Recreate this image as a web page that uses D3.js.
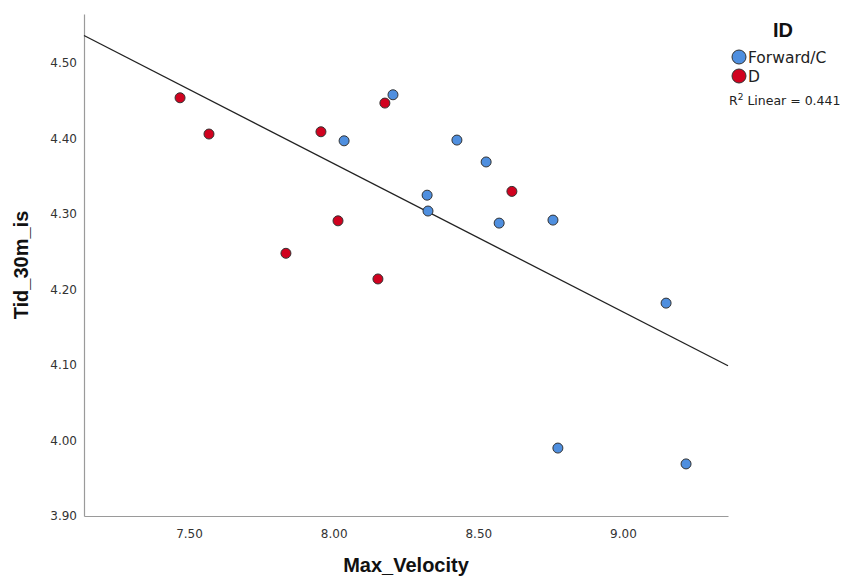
<!DOCTYPE html>
<html>
<head>
<meta charset="utf-8">
<script src="https://cdn.jsdelivr.net/npm/d3@7"></script>
<style>
  body { margin: 0; background: #fff; }
  svg text { font-family: "DejaVu Sans", sans-serif; }
  svg text.title { font-family: "Liberation Sans", Arial, sans-serif; }
</style>
</head>
<body>
<div id="chart"></div>
<script>
// Data
const groups = ['Forward/C', 'D'];
const groupColors = ['#4f8fdf', '#d0021f'];

const forwardVelocity = [8.205, 8.036, 8.426, 8.527, 8.323, 8.326, 8.572, 8.758, 9.149, 8.775, 9.218];
const forwardTime     = [4.458, 4.397, 4.398, 4.369, 4.325, 4.304, 4.288, 4.292, 4.182, 3.990, 3.969];

const dVelocity = [7.469, 7.569, 7.835, 7.956, 8.015, 8.153, 8.177, 8.616];
const dTime     = [4.454, 4.406, 4.248, 4.409, 4.291, 4.214, 4.447, 4.330];

const xTicks = [7.5, 8.0, 8.5, 9.0];
const yTicks = [3.9, 4.0, 4.1, 4.2, 4.3, 4.4, 4.5];
const xDomain = [7.137, 9.363];
const yDomain = [3.9, 4.565];
const r2Label = '0.441';

const width = 849, height = 576;
const margin = { top: 14, right: 121, bottom: 60, left: 84 };

const svg = d3.select('#chart')
    .append('svg')
    .attr('width', width)
    .attr('height', height);

const x = d3.scaleLinear().domain(xDomain).range([margin.left, width - margin.right]);
const y = d3.scaleLinear().domain(yDomain).range([height - margin.bottom, margin.top]);

// Axes (lines only, no tick marks)
const xAxis = svg.append('g')
    .attr('transform', `translate(0,${height - margin.bottom})`)
    .call(d3.axisBottom(x).tickValues(xTicks).tickSize(0).tickPadding(13).tickFormat(d3.format('.2f')));
const yAxis = svg.append('g')
    .attr('transform', `translate(${margin.left},0)`)
    .call(d3.axisLeft(y).tickValues(yTicks).tickSize(0).tickPadding(7).tickFormat(d3.format('.2f')));

[xAxis, yAxis].forEach(a => {
    a.select('.domain').attr('stroke', '#9a9a9a').attr('stroke-width', 1.2);
    a.selectAll('text')
        .attr('fill', '#333')
        .attr('font-size', 12)
        .attr('font-family', '"DejaVu Sans", sans-serif');
});

// Build point list from the arrays
const points = [];
forwardVelocity.forEach((v, i) => points.push({ x: v, y: forwardTime[i], g: 0 }));
dVelocity.forEach((v, i) => points.push({ x: v, y: dTime[i], g: 1 }));

// Linear fit over all points
const mx = d3.mean(points, d => d.x);
const my = d3.mean(points, d => d.y);
const slope = d3.sum(points, d => (d.x - mx) * (d.y - my)) / d3.sum(points, d => (d.x - mx) ** 2);
const intercept = my - slope * mx;

svg.append('line')
    .attr('x1', x(xDomain[0]))
    .attr('y1', y(intercept + slope * xDomain[0]))
    .attr('x2', x(xDomain[1]))
    .attr('y2', y(intercept + slope * xDomain[1]))
    .attr('stroke', '#222')
    .attr('stroke-width', 1.3);

// Points
svg.append('g')
    .selectAll('circle')
    .data(points)
    .join('circle')
    .attr('cx', d => x(d.x))
    .attr('cy', d => y(d.y))
    .attr('r', 5)
    .attr('fill', d => groupColors[d.g])
    .attr('stroke', '#333')
    .attr('stroke-width', 1);

// Axis titles
svg.append('text')
    .attr('class', 'title')
    .attr('x', (margin.left + width - margin.right) / 2)
    .attr('y', 572)
    .attr('text-anchor', 'middle')
    .attr('font-size', 20)
    .attr('font-weight', 'bold')
    .attr('fill', '#111')
    .text('Max_Velocity');

svg.append('text')
    .attr('class', 'title')
    .attr('transform', `translate(28,${(margin.top + height - margin.bottom) / 2}) rotate(-90)`)
    .attr('text-anchor', 'middle')
    .attr('font-size', 20)
    .attr('font-weight', 'bold')
    .attr('fill', '#111')
    .text('Tid_30m_is');

// Legend
const legend = svg.append('g');
legend.append('text')
    .attr('class', 'title')
    .attr('x', 783)
    .attr('y', 37)
    .attr('text-anchor', 'middle')
    .attr('font-size', 20)
    .attr('font-weight', 'bold')
    .attr('fill', '#111')
    .text('ID');

groups.forEach((name, i) => {
    legend.append('circle')
        .attr('cx', 739)
        .attr('cy', 57 + i * 19)
        .attr('r', 7)
        .attr('fill', groupColors[i])
        .attr('stroke', '#333')
        .attr('stroke-width', 1);
    legend.append('text')
        .attr('x', 748)
        .attr('y', 63 + i * 19)
        .attr('font-size', 15.5)
        .attr('fill', '#222')
        .text(name);
});

const r2 = legend.append('text')
    .attr('x', 729)
    .attr('y', 105)
    .attr('font-size', 12.5)
    .attr('fill', '#222');
r2.append('tspan').text('R');
r2.append('tspan').attr('dy', -5).attr('font-size', 9).text('2');
r2.append('tspan').attr('dy', 5).text(' Linear = ' + r2Label);
</script>
</body>
</html>
